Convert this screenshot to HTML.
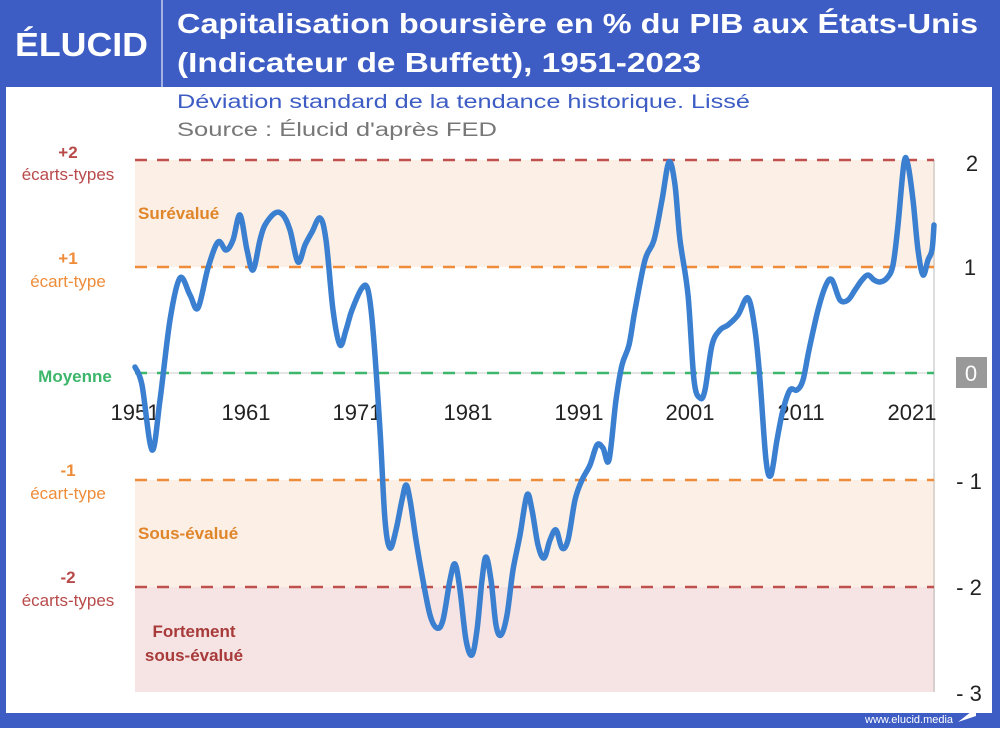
<!DOCTYPE html>
<html><head><meta charset="utf-8"><style>
body{margin:0;width:1000px;height:728px;overflow:hidden;background:#fff;font-family:"Liberation Sans",sans-serif}
</style></head><body>
<svg width="1000" height="728" xmlns="http://www.w3.org/2000/svg" font-family="Liberation Sans, sans-serif">
<rect x="0" y="0" width="1000" height="728" fill="#3d5cc4"/>
<rect x="6" y="87" width="986" height="626" fill="#fff"/>
<line x1="162" y1="0" x2="162" y2="87" stroke="#fff" stroke-width="1.5" opacity="0.7"/>
<text x="15" y="56" fill="#fff" font-size="33" font-weight="bold" textLength="133" lengthAdjust="spacingAndGlyphs">ÉLUCID</text>
<text x="177" y="33" fill="#fff" font-size="28" font-weight="bold" textLength="801" lengthAdjust="spacingAndGlyphs">Capitalisation boursière en % du PIB aux États-Unis</text>
<text x="177" y="72" fill="#fff" font-size="28" font-weight="bold" textLength="524" lengthAdjust="spacingAndGlyphs">(Indicateur de Buffett), 1951-2023</text>
<text x="177" y="108" fill="#3d5cc4" font-size="19" textLength="573" lengthAdjust="spacingAndGlyphs">Déviation standard de la tendance historique. Lissé</text>
<text x="177" y="136" fill="#777" font-size="19" textLength="320" lengthAdjust="spacingAndGlyphs">Source : Élucid d'après FED</text>
<rect x="135" y="160" width="800" height="107" fill="#fcefe6"/>
<rect x="135" y="480" width="800" height="107" fill="#fcefe6"/>
<rect x="135" y="587" width="800" height="105" fill="#f5e4e3"/>
<line x1="934" y1="160" x2="934" y2="692" stroke="#bbb" stroke-width="1"/>
<line x1="135" y1="373" x2="934" y2="373" stroke="#ccc" stroke-width="1"/>
<g stroke-dasharray="12,10" stroke-width="2.5">
<line x1="135" y1="160" x2="934" y2="160" stroke="#c0504d"/>
<line x1="135" y1="267" x2="934" y2="267" stroke="#ee8c3a"/>
<line x1="135" y1="373" x2="934" y2="373" stroke="#3cb66a"/>
<line x1="135" y1="480" x2="934" y2="480" stroke="#ee8c3a"/>
<line x1="135" y1="587" x2="934" y2="587" stroke="#c0504d"/>
</g>
<g font-size="22" fill="#222" text-anchor="middle">
<text x="135" y="420">1951</text><text x="246" y="420">1961</text><text x="357" y="420">1971</text><text x="468" y="420">1981</text><text x="579" y="420">1991</text><text x="690" y="420">2001</text><text x="801" y="420">2011</text><text x="912" y="420">2021</text>
</g>
<path id="ser" fill="none" stroke="#3a7fd0" stroke-width="5.5" stroke-linejoin="round" stroke-linecap="round" d=""/>
<g font-size="17" text-anchor="middle">
<text x="68" y="158" fill="#b84a4a" font-weight="bold">+2</text>
<text x="68" y="180" fill="#b84a4a">écarts-types</text>
<text x="68" y="264" fill="#ee8c3a" font-weight="bold">+1</text>
<text x="68" y="287" fill="#ee8c3a">écart-type</text>
<text x="75" y="382" fill="#3cb66a" font-weight="bold">Moyenne</text>
<text x="68" y="476" fill="#ee8c3a" font-weight="bold">-1</text>
<text x="68" y="499" fill="#ee8c3a">écart-type</text>
<text x="68" y="583" fill="#b84a4a" font-weight="bold">-2</text>
<text x="68" y="606" fill="#b84a4a">écarts-types</text>
</g>
<g font-size="17" font-weight="bold">
<text x="138" y="219" fill="#e0862a">Surévalué</text>
<text x="138" y="539" fill="#e0862a">Sous-évalué</text>
<text x="194" y="637" fill="#a83a3a" text-anchor="middle">Fortement</text>
<text x="194" y="661" fill="#a83a3a" text-anchor="middle">sous-évalué</text>
</g>
<g font-size="22" fill="#222" text-anchor="middle">
<text x="972" y="171">2</text><text x="970" y="275">1</text>
<rect x="956" y="357" width="31" height="31" fill="#999"/>
<text x="971" y="381" fill="#fff">0</text>
<text x="969" y="489">- 1</text><text x="969" y="595">- 2</text><text x="969" y="701">- 3</text>
</g>
<text x="865" y="723" fill="#fff" font-size="11">www.elucid.media</text>
<polygon points="958,722 976,716 976,708" fill="#fff"/>
</svg>
<script>
var s="135,367 142,385 152,450 160,400 170,320 180,278 190,295 198,308 208,268 218,242 226,250 233,240 240,215 247,250 253,270 260,240 265,225 275,213 283,215 290,230 298,262 305,245 312,232 320,218 326,240 333,310 340,345 346,330 352,310 362,288 368,290 373,330 380,430 385,520 390,548 396,530 402,500 406,485 410,500 416,540 422,575 430,615 437,628 443,620 450,580 455,564 460,590 466,640 472,655 477,630 482,580 486,557 491,580 496,625 501,635 507,615 513,570 520,535 527,495 532,510 538,545 544,558 550,540 556,530 562,548 568,540 575,500 582,480 590,465 597,445 603,448 609,460 616,400 622,365 629,345 635,310 645,260 654,240 662,200 669,162 675,185 680,240 688,295 694,380 700,398 705,390 712,345 720,330 728,325 738,315 748,298 755,330 760,380 766,460 771,475 777,440 783,410 790,390 797,390 803,380 809,350 818,310 826,285 832,280 840,300 848,300 855,290 862,280 868,275 874,280 880,282 887,278 893,265 898,225 904,163 908,165 913,200 918,250 923,275 928,260 932,250 934,225";
var p=s.split(" ").map(function(t){var a=t.split(",");return[+a[0],+a[1]];});
var d="M"+p[0][0]+","+p[0][1];
for(var i=0;i<p.length-1;i++){var p0=p[i-1]||p[i],p1=p[i],p2=p[i+1],p3=p[i+2]||p2;
var c1x=p1[0]+(p2[0]-p0[0])/6,c1y=p1[1]+(p2[1]-p0[1])/6,c2x=p2[0]-(p3[0]-p1[0])/6,c2y=p2[1]-(p3[1]-p1[1])/6;
d+=" C"+c1x.toFixed(1)+","+c1y.toFixed(1)+" "+c2x.toFixed(1)+","+c2y.toFixed(1)+" "+p2[0]+","+p2[1];}
document.getElementById("ser").setAttribute("d",d);
</script>
</body></html>
